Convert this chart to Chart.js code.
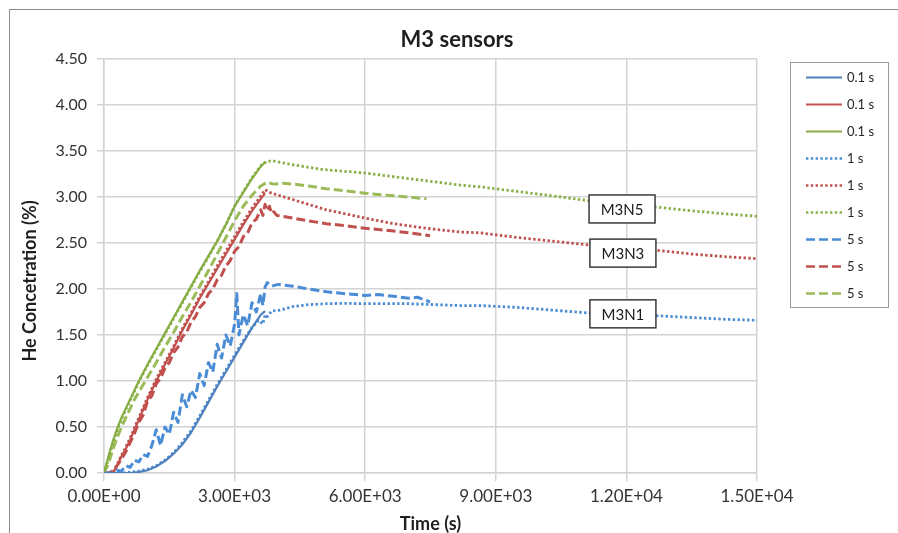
<!DOCTYPE html>
<html><head><meta charset="utf-8">
<script src="https://cdn.jsdelivr.net/npm/chart.js@4.4.1/dist/chart.umd.min.js"></script>
<style>
html,body{margin:0;padding:0;background:#fff;overflow:hidden}
#wrap{position:relative;width:898px;height:533px;overflow:hidden}
#frame{position:absolute;left:9px;top:9px;width:1000px;height:1000px;border-left:1px solid #8c8c8c;border-top:1px solid #8c8c8c}
canvas{position:absolute;left:0;top:0}
</style></head><body>
<div id="wrap"><div id="frame"></div><canvas id="c" width="898" height="533"></canvas></div>
<script>
// ---------- data ----------
const chartTitle = 'M3 sensors';
const xAxisTitle = 'Time (s)';
const yAxisTitle = 'He Concetration (%)';

const xTickValues = [0, 3000, 6000, 9000, 12000, 15000];
const xTickLabels = ['0.00E+00', '3.00E+03', '6.00E+03', '9.00E+03', '1.20E+04', '1.50E+04'];
const yTickValues = [0, 0.5, 1, 1.5, 2, 2.5, 3, 3.5, 4, 4.5];
const yTickLabels = ['0.00', '0.50', '1.00', '1.50', '2.00', '2.50', '3.00', '3.50', '4.00', '4.50'];

const seriesLabels = ['0.1 s', '0.1 s', '0.1 s', '1 s', '1 s', '1 s', '5 s', '5 s', '5 s'];

// 0.1 s
const tBlue01 = [0,400,600,800,1000,1200,1400,1600,1800,2000,2200,2400,2600,2800,3000,3200,3400,3600,3700];
const yBlue01 = [0,0,0,0.01,0.03,0.07,0.13,0.21,0.31,0.44,0.6,0.77,0.94,1.1,1.26,1.42,1.58,1.72,1.76];
const tRed01 = [0,200,300,400,500,600,700,800,1000,1200,1400,1600,1800,2000,2200,2400,2600,2800,3000,3200,3400,3600,3700];
const yRed01 = [0,0,0.08,0.18,0.26,0.36,0.47,0.58,0.8,1.0,1.18,1.36,1.55,1.72,1.9,2.06,2.22,2.38,2.54,2.7,2.85,2.98,3.04];
const tGreen01 = [0,100,200,300,400,500,600,700,800,1000,1200,1400,1600,1800,2000,2200,2400,2600,2800,3000,3200,3400,3600,3700];
const yGreen01 = [0,0.18,0.34,0.48,0.6,0.7,0.8,0.9,1.0,1.18,1.35,1.52,1.69,1.86,2.03,2.2,2.36,2.52,2.7,2.9,3.05,3.2,3.33,3.38];

// 1 s
const tBlue1 = [0,400,600,800,1000,1200,1400,1600,1800,2000,2200,2400,2600,2800,3000,3200,3400,3550,3650,3700,3750,3850,4040,4350,4700,5110,5500,6000,7000,8180,8640,9500,10300,11120,12000,12690,13500,14300,15000];
const yBlue1 = [0,0,0.01,0.02,0.04,0.08,0.14,0.22,0.33,0.46,0.62,0.79,0.96,1.12,1.28,1.44,1.58,1.66,1.62,1.72,1.7,1.76,1.77,1.81,1.83,1.84,1.845,1.84,1.84,1.82,1.82,1.8,1.77,1.74,1.72,1.71,1.69,1.67,1.66];
const tRed1 = [0,200,300,400,500,600,700,800,1000,1200,1400,1600,1800,2000,2200,2400,2600,2800,3000,3200,3400,3600,3700,3800,3930,4350,5110,6000,6650,7400,8180,8640,9500,10300,11120,12000,12690,13500,14300,15000];
const yRed1 = [0,0,0.09,0.19,0.28,0.38,0.49,0.6,0.82,1.02,1.2,1.38,1.57,1.74,1.92,2.08,2.25,2.41,2.57,2.73,2.88,3.01,3.08,3.05,3.03,2.97,2.86,2.77,2.71,2.66,2.62,2.61,2.56,2.52,2.48,2.45,2.42,2.38,2.35,2.33];
const tGreen1 = [0,100,200,300,400,500,600,700,800,1000,1200,1400,1600,1800,2000,2200,2400,2600,2800,3000,3200,3400,3600,3750,3900,4350,5000,6000,7000,8180,8640,9500,10500,11120,12000,12690,13500,14200,15000];
const yGreen1 = [0,0.15,0.32,0.46,0.58,0.69,0.79,0.89,0.99,1.17,1.34,1.51,1.68,1.85,2.02,2.19,2.35,2.52,2.7,2.9,3.06,3.21,3.34,3.39,3.39,3.35,3.3,3.26,3.2,3.13,3.11,3.06,3.0,2.96,2.92,2.89,2.85,2.82,2.79];

// 5 s
const tBlue5 = [0,200,300,400,500,600,700,800,900,1000,1100,1200,1300,1400,1500,1600,1700,1800,1900,2000,2100,2200,2300,2400,2500,2600,2700,2800,2900,3000,3050,3100,3200,3300,3400,3500,3600,3650,3700,3750,3850,4000,4350,4700,5110,5500,6000,6300,6650,7000,7200,7490];
const yBlue5 = [0,0,0.03,0.02,0.08,0.06,0.14,0.12,0.2,0.18,0.3,0.47,0.3,0.5,0.42,0.66,0.55,0.85,0.72,0.9,0.82,1.08,0.95,1.2,1.1,1.4,1.25,1.5,1.38,1.62,1.95,1.5,1.72,1.6,1.85,1.75,1.95,1.82,2.02,2.07,2.03,2.05,2.03,2.0,1.97,1.95,1.93,1.94,1.92,1.9,1.91,1.86];
const tRed5 = [0,100,200,300,400,500,600,700,800,900,1000,1100,1200,1300,1400,1500,1600,1700,1800,1900,2000,2100,2200,2300,2400,2500,2600,2700,2800,2900,3000,3100,3200,3300,3400,3500,3600,3650,3700,3750,3800,3850,3900,3970,4350,4700,5110,5500,6000,6650,7000,7490];
const yRed5 = [0,0,0.02,0.08,0.15,0.23,0.33,0.43,0.55,0.63,0.78,0.84,0.97,1.03,1.14,1.2,1.31,1.37,1.48,1.53,1.64,1.7,1.8,1.85,1.95,2.0,2.1,2.15,2.25,2.31,2.41,2.46,2.57,2.61,2.72,2.76,2.86,2.8,2.92,2.85,2.9,2.82,2.84,2.8,2.77,2.74,2.71,2.69,2.66,2.63,2.61,2.58];
const tGreen5 = [0,100,200,300,400,500,600,700,800,1000,1200,1400,1600,1800,2000,2200,2400,2600,2800,3000,3200,3400,3600,3750,3900,4100,4350,4700,5100,5500,6000,6500,7000,7410];
const yGreen5 = [0,0.1,0.25,0.38,0.5,0.6,0.7,0.8,0.88,1.04,1.2,1.37,1.53,1.7,1.86,2.03,2.2,2.38,2.56,2.74,2.9,3.02,3.12,3.16,3.14,3.15,3.14,3.12,3.09,3.07,3.04,3.02,3.0,2.98];

// annotation callouts (data coordinates of box centres)
const noteLabels = ['M3N5', 'M3N3', 'M3N1'];
const noteX = [11900, 11920, 11920];
const noteY = [2.87, 2.39, 1.73];

// ---------- build ----------
const BLUE = '#4F81BD', RED = '#C0504D', GREEN = '#9BBB59';
const pts = (t, y) => t.map((v, i) => ({x: v, y: y[i]}));
const SOLID = [], DOT = [2.4, 2.4], DASH = [9, 4];
function ds(i, t, y, color, dash, w) {
  return {label: seriesLabels[i], data: pts(t, y), borderColor: color, backgroundColor: color,
          borderDash: dash, borderWidth: w, pointRadius: 0, fill: false, tension: 0,
          borderCapStyle: 'butt', borderJoinStyle: 'round'};
}
const datasets = [
  ds(0, tBlue01, yBlue01, BLUE, SOLID, 2.2),
  ds(1, tRed01, yRed01, RED, SOLID, 2.2),
  ds(2, tGreen01, yGreen01, '#86AE45', SOLID, 2.2),
  ds(3, tBlue1, yBlue1, '#4A8CD6', DOT, 2.8),
  ds(4, tRed1, yRed1, RED, DOT, 2.8),
  ds(5, tGreen1, yGreen1, '#8AB04A', DOT, 2.8),
  ds(6, tBlue5, yBlue5, '#4A8CD6', DASH, 3),
  ds(7, tRed5, yRed5, RED, DASH, 3),
  ds(8, tGreen5, yGreen5, GREEN, DASH, 3)
];

const FONT = 'Lato';
Chart.defaults.font.family = FONT;

const extras = {
  id: 'extras',
  afterDraw(chart) {
    const ctx = chart.ctx;
    const xs = chart.scales.x, ys = chart.scales.y;
    ctx.save();
    // title
    ctx.fillStyle = '#1f1f1f';
    ctx.font = 'bold 22px ' + FONT;
    ctx.textAlign = 'center';
    ctx.textBaseline = 'middle';
    ctx.fillText(chartTitle, 457, 40);
    // y-axis title
    ctx.save();
    ctx.translate(30, 281);
    ctx.rotate(-Math.PI / 2);
    ctx.font = 'bold 18px ' + FONT;
    ctx.fillText(yAxisTitle, 0, 0);
    ctx.restore();
    // callouts
    ctx.font = '15px ' + FONT;
    noteLabels.forEach((lab, i) => {
      const cx = xs.getPixelForValue(noteX[i]), cy = ys.getPixelForValue(noteY[i]);
      const w = 66, h = 28;
      ctx.fillStyle = '#fff';
      ctx.fillRect(cx - w / 2, cy - h / 2, w, h);
      ctx.strokeStyle = '#3a3a3a';
      ctx.lineWidth = 1.5;
      ctx.setLineDash([]);
      ctx.strokeRect(cx - w / 2, cy - h / 2, w, h);
      ctx.fillStyle = '#1a1a1a';
      ctx.fillText(lab, cx, cy + 1);
    });
    // legend box
    ctx.fillStyle = '#fff';
    ctx.fillRect(790, 62, 98, 245);
    ctx.strokeStyle = '#9a9a9a';
    ctx.lineWidth = 1;
    ctx.strokeRect(790.5, 62.5, 98, 245);
    ctx.font = '13px ' + FONT;
    ctx.textAlign = 'left';
    chart.data.datasets.forEach((d, i) => {
      const y = Math.round(76.5 + 27.1 * i) + 0.5;
      ctx.strokeStyle = d.borderColor;
      ctx.lineWidth = Math.min(d.borderWidth, 2.5);
      ctx.setLineDash(d.borderDash);
      ctx.beginPath();
      ctx.moveTo(806, y);
      ctx.lineTo(842, y);
      ctx.stroke();
      ctx.setLineDash([]);
      ctx.fillStyle = '#262626';
      ctx.fillText(d.label, 847, y);
    });
    ctx.restore();
  }
};

const GRID = '#d3d3d3';
new Chart(document.getElementById('c'), {
  type: 'line',
  data: {datasets},
  plugins: [extras],
  options: {
    responsive: false,
    animation: false,
    events: [],
    layout: {padding: {left: 0, top: 59, right: 141, bottom: 0}},
    plugins: {legend: {display: false}, tooltip: {enabled: false}, title: {display: false}},
    scales: {
      x: {
        type: 'linear', min: 0, max: 15000,
        afterBuildTicks: s => { s.ticks = xTickValues.map(v => ({value: v})); },
        afterFit: s => { s.height = 60; },
        ticks: {
          callback: v => { const i = xTickValues.indexOf(v); return i >= 0 ? xTickLabels[i] : ''; },
          font: {size: 17}, color: '#333333', padding: 5, maxRotation: 0, autoSkip: false
        },
        grid: {color: GRID, lineWidth: 1.5, tickLength: 8, drawTicks: true},
        border: {color: GRID, width: 1.5},
        title: {display: true, text: xAxisTitle, font: {size: 18, weight: 'bold'}, color: '#1f1f1f', padding: {top: 0, bottom: -2}}
      },
      y: {
        type: 'linear', min: 0, max: 4.5,
        afterBuildTicks: s => { s.ticks = yTickValues.map(v => ({value: v})); },
        afterFit: s => { s.width = 104; },
        ticks: {
          callback: v => { const i = yTickValues.indexOf(v); return i >= 0 ? yTickLabels[i] : ''; },
          font: {size: 16}, color: '#333333', padding: 10
        },
        grid: {color: GRID, lineWidth: 1.5, tickLength: 7, drawTicks: true},
        border: {color: GRID, width: 1.5},
        title: {display: false}
      }
    }
  }
});
</script>
</body></html>
